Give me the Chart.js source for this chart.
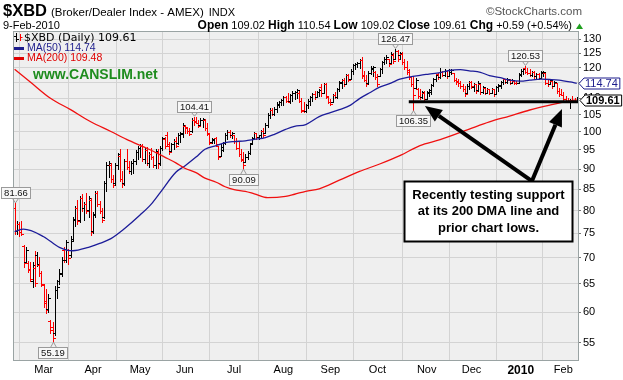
<!DOCTYPE html>
<html>
<head>
<meta charset="utf-8">
<script src="https://cdn.jsdelivr.net/npm/chart.js@4.4.1/dist/chart.umd.min.js"></script>
<style>
  html, body { margin: 0; padding: 0; background: #fff; }
  #wrap { width: 623px; height: 380px; }
</style>
</head>
<body>
<div id="wrap"><canvas id="xbd" width="623" height="380"></canvas></div>
<script>
// daily bars, 10-Feb-2009 .. 9-Feb-2010
const opens = [80.5,75.5,77.0,75.3,72.3,69.2,69.0,67.8,65.5,68.0,
  70.5,68.5,67.0,64.8,62.0,60.5,58.5,57.5,56.5,63.8,
  65.5,67.0,71.5,69.5,71.5,70.5,73.5,78.0,80.5,77.8,
  83.0,80.5,81.5,80.2,82.5,75.5,79.0,84.0,81.5,80.0,
  78.5,86.5,91.0,91.0,87.5,86.5,91.0,93.5,87.5,86.5,
  92.0,90.5,89.5,91.5,92.0,94.5,95.5,96.0,92.5,95.0,
  91.5,94.0,93.0,91.0,94.5,91.5,95.5,98.0,99.0,96.5,
  94.8,96.5,97.5,96.8,99.0,99.5,101.8,101.0,100.2,100.2,
  103.5,103.0,102.5,102.0,103.5,103.5,101.0,99.5,97.2,97.8,
  98.2,96.0,93.5,95.0,97.0,99.0,100.0,99.0,99.0,97.5,
  95.5,93.8,92.5,91.8,93.0,94.2,96.8,98.3,99.6,98.5,
  99.0,100.3,99.8,102.0,105.0,106.5,105.2,106.8,108.0,108.8,
  109.5,110.3,109.0,109.0,111.0,111.5,112.0,111.5,109.0,106.5,
  106.0,107.8,109.3,110.3,111.3,110.5,112.0,113.5,111.8,114.4,
  110.5,108.8,108.8,111.0,110.5,112.8,115.0,115.8,114.6,117.4,
  116.2,119.0,120.8,121.2,121.6,122.6,117.5,116.0,114.8,118.3,
  119.5,118.5,116.8,117.2,119.5,122.0,123.0,123.0,121.5,124.5,
  123.0,125.8,124.5,124.8,121.8,120.2,119.3,116.8,114.5,113.2,
  113.0,110.8,110.3,111.8,109.8,111.5,112.0,114.2,116.3,117.8,
  116.8,118.5,117.5,118.8,117.2,118.5,118.0,116.0,115.5,114.8,
  114.0,112.8,111.5,114.0,115.2,113.5,114.5,112.5,114.6,112.0,
  113.3,111.8,113.0,111.8,112.8,111.4,113.5,114.0,115.2,116.2,
  115.2,116.0,115.0,115.5,115.0,114.9,117.5,119.0,119.8,118.6,
  118.3,117.6,118.5,117.0,117.9,116.6,118.0,118.2,115.0,114.6,
  115.6,114.0,114.9,112.2,111.2,111.0,109.7,109.0,108.9,109.5,
  109.2,109.02];
const highs = [81.66,77.6,77.4,77.6,72.5,72.1,69.3,69.1,69.1,71.3,
  71.1,70.1,67.4,65.0,64.1,63.2,58.7,58.4,64.6,65.8,
  67.8,70.1,72.1,73.7,71.7,74.4,78.5,81.0,82.5,83.5,
  83.8,82.0,84.0,83.5,82.8,79.8,84.6,84.5,82.3,80.5,
  87.0,91.8,92.0,91.5,88.5,91.5,94.3,95.2,89.5,92.5,
  95.2,92.0,92.0,92.5,95.0,96.0,96.5,96.5,95.5,95.8,
  94.5,95.5,93.5,95.2,95.2,96.0,98.7,98.5,100.1,97.3,
  97.0,97.9,98.7,99.8,100.1,102.5,102.0,101.4,101.1,104.0,
  104.41,104.2,103.4,104.0,104.0,103.7,102.5,99.8,98.4,98.4,
  98.7,96.0,96.5,97.3,99.8,100.6,100.6,100.1,99.2,98.4,
  97.3,95.2,94.4,93.9,94.6,97.0,98.7,100.1,99.8,99.2,
  100.6,101.0,102.5,105.4,106.9,106.9,107.2,108.7,109.3,109.9,
  110.8,110.8,111.7,111.4,112.4,112.4,113.0,112.2,110.2,108.7,
  108.2,109.9,110.8,111.7,112.4,112.4,113.0,114.6,114.9,114.9,
  110.8,109.9,111.4,112.0,113.3,115.6,116.2,116.6,117.9,117.9,
  119.6,121.3,121.7,122.0,123.1,123.5,119.0,117.5,119.0,120.6,
  120.5,118.9,117.9,119.9,122.4,123.5,124.2,123.1,125.3,124.9,
  126.47,126.0,125.3,125.3,123.1,122.4,119.6,117.2,117.2,116.6,
  113.3,113.0,112.4,112.4,112.4,113.0,114.6,116.6,117.9,118.2,
  119.8,118.9,119.6,118.9,119.6,119.6,118.2,116.6,116.2,115.6,
  114.6,114.0,114.6,115.6,115.6,114.9,114.6,115.6,114.6,114.0,
  113.3,113.3,113.0,113.3,113.0,114.0,114.6,115.6,116.6,116.2,
  116.6,116.2,116.2,115.6,115.6,118.2,119.6,119.9,120.53,119.9,
  119.6,118.9,118.9,118.2,118.2,118.9,118.9,118.2,116.2,116.2,
  115.6,115.6,114.9,113.3,113.0,112.0,110.8,110.2,109.9,110.8,
  110.2,110.54];
const lows = [74.8,74.8,74.4,74.6,68.1,69.1,67.2,65.5,64.4,64.6,
  68.3,66.4,64.6,60.9,59.9,60.1,56.6,55.19,56.3,62.5,
  65.0,66.4,69.1,69.1,68.7,70.1,73.3,76.5,77.0,77.5,
  80.0,78.0,79.5,78.5,74.6,75.0,78.5,81.0,79.5,77.5,
  78.3,84.5,88.0,86.8,85.5,86.0,90.0,86.9,85.5,86.0,
  90.0,89.0,88.8,89.0,91.2,92.5,93.0,92.0,91.5,91.0,
  90.5,92.5,90.5,90.4,90.4,91.0,95.0,95.5,96.0,93.9,
  94.6,95.2,95.7,96.5,97.3,98.7,99.8,99.8,99.2,100.1,
  102.0,102.5,101.4,102.0,101.4,100.6,99.2,96.5,97.0,97.0,
  96.0,92.5,93.3,94.6,96.5,97.9,98.7,98.4,97.0,95.2,
  93.3,92.0,90.09,91.7,92.5,93.9,96.5,97.9,97.9,97.9,
  98.7,98.7,99.8,101.4,104.0,104.8,104.8,105.7,107.2,107.8,
  107.8,108.7,108.7,108.4,109.3,109.9,110.2,108.7,105.7,105.7,
  105.8,107.0,107.8,109.3,109.9,110.5,110.8,110.8,111.7,110.2,
  108.4,107.8,108.7,110.0,110.2,112.4,113.3,114.0,114.6,115.6,
  116.2,117.9,119.6,120.3,119.9,116.6,115.5,114.0,114.5,117.9,
  117.2,116.2,114.0,117.0,118.2,121.3,121.7,120.6,121.5,121.7,
  123.0,122.4,123.1,121.3,119.6,117.9,116.2,114.0,106.35,113.0,
  110.2,109.9,110.2,109.3,109.8,110.8,111.4,114.0,115.6,116.2,
  116.6,117.2,117.2,116.6,117.2,117.9,115.6,114.6,114.0,113.3,
  112.4,110.8,111.5,113.0,113.3,112.4,111.7,112.4,111.4,111.7,
  111.4,111.7,111.4,111.7,110.8,111.4,112.4,113.3,114.6,114.9,
  114.9,114.6,114.9,114.6,114.6,114.9,117.2,117.9,118.2,117.9,
  117.2,117.2,116.6,116.6,116.2,116.6,117.2,114.6,114.0,114.6,
  113.3,114.0,111.7,110.8,111.0,109.3,108.7,108.7,106.9,108.7,
  108.7,109.02];
const closes = [75.6,77.1,75.2,74.9,69.0,71.5,67.6,66.0,68.5,65.2,
  68.7,67.0,65.0,61.5,60.4,62.5,57.0,55.8,63.8,64.5,
  66.8,69.6,69.5,73.2,70.0,73.8,78.2,80.6,77.6,83.0,
  80.5,81.6,80.0,83.0,75.2,79.2,84.0,81.5,80.0,78.0,
  86.5,91.0,91.5,87.5,86.0,91.0,93.8,87.5,86.2,92.0,
  90.5,89.5,91.5,92.2,94.5,95.5,96.0,92.5,95.0,91.5,
  94.0,93.0,91.0,94.8,91.2,95.5,98.2,96.2,96.1,94.5,
  96.5,97.5,96.0,99.2,99.8,102.0,101.5,100.2,99.5,103.5,
  102.8,102.6,101.8,103.5,103.7,101.0,99.8,97.0,98.0,98.2,
  96.5,93.0,95.8,96.8,99.2,100.0,99.0,99.6,97.5,95.6,
  93.8,92.4,91.0,93.2,94.2,96.6,98.3,99.6,98.5,99.0,
  100.3,99.2,102.0,105.0,106.5,105.2,106.8,108.2,108.8,109.5,
  110.3,109.0,108.9,111.0,111.8,112.0,112.6,109.2,106.2,106.0,
  107.8,109.3,110.3,111.3,110.4,112.0,112.6,111.5,114.4,110.8,
  108.8,108.2,111.0,110.5,112.8,115.2,115.8,114.5,117.4,116.0,
  119.0,120.8,121.2,121.6,122.6,117.2,116.0,114.5,118.3,120.0,
  120.2,116.8,114.5,119.5,122.0,123.0,123.8,121.2,124.8,122.3,
  125.8,123.0,124.9,121.8,120.2,118.5,116.8,114.5,111.0,116.0,
  110.8,110.3,111.9,109.7,112.0,112.6,114.2,116.3,117.5,116.8,
  118.5,117.5,119.0,117.2,119.2,119.3,116.0,115.2,114.8,114.0,
  112.8,111.2,114.0,115.2,113.8,114.5,112.2,115.0,111.9,113.5,
  111.8,113.0,111.7,113.0,111.2,113.6,114.2,115.3,116.3,115.2,
  116.2,115.0,115.8,115.0,114.8,117.8,119.0,119.6,118.6,118.3,
  117.6,118.5,117.0,117.9,116.5,118.4,118.6,115.0,114.4,115.8,
  113.8,115.2,112.2,111.2,111.0,109.7,109.0,108.9,109.5,109.2,
  109.02,109.61];

// moving averages (bar index, value)
const ma50Idx = [0,4,13,20,26,33,38,43,49,56,61,65,72,76,81,85,90,94,98,103,107,112,116,121,125,130,136,141,145,150,154,159,163,168,172,176,181,185,190,194,199,203,208,212,217,221,226,230,235,239,243,248,251];
const ma50Val = [75.4,75.9,74.3,72.1,71.4,72.1,72.9,73.9,76.0,79.0,81.5,84.2,89.2,90.8,93.1,95.2,96.2,97.0,97.3,97.5,97.9,98.4,99.3,100.7,101.6,102.1,104.4,105.6,106.5,107.9,109.9,111.9,113.5,114.8,116.1,116.8,117.4,117.8,118.3,119.0,119.3,118.9,118.4,117.3,116.6,115.8,115.5,115.8,116.1,116.0,115.8,115.2,114.74];
const ma200Idx = [0,7,16,25,34,43,50,60,67,72,76,81,85,90,94,98,103,107,113,121,125,130,136,145,154,163,172,181,190,203,212,221,230,239,248,251];
const ma200Val = [119.4,115.2,110.0,106.5,102.9,100.1,97.9,95.2,93.1,91.6,90.2,89.1,87.7,86.7,85.6,84.9,84.5,83.9,83.0,83.3,83.8,84.5,85.1,87.2,89.4,91.3,93.5,96.2,97.8,100.8,102.9,104.6,106.4,107.9,109.2,109.48];

const monthIdx = [13,35,56,76,98,120,141,162,184,204,226,245];
const monthLabels = ['Mar','Apr','May','Jun','Jul','Aug','Sep','Oct','Nov','Dec','2010','Feb'];
const yTicks = [55,60,65,70,75,80,85,90,95,100,105,110,115,120,125,130];

const highMarks = [0, 80, 170, 228];
const lowMarks = [17, 102, 178];
const supportLevel = 108.9;
const supportSpan = [176, 252];
const arrowTips = [[183.2, 107.6], [244.4, 106.7]];
const arrowTail = [231.0, 87.0];
const noteTop = [211.5, 87.0];
const noteLines = ['Recently testing support', 'at its 200 DMA line and', 'prior chart lows.'];

const FONT = "'Liberation Sans', Arial, sans-serif";
const WIDE = "'DejaVu Sans', Verdana, sans-serif";

function isUp(i) {
  return i === 0 ? closes[0] >= opens[0] : closes[i] >= closes[i - 1];
}

function text(ctx, s, x, y, font, color, align) {
  ctx.font = font;
  ctx.fillStyle = color;
  ctx.textAlign = align || 'left';
  ctx.textBaseline = 'middle';
  ctx.fillText(s, x, y);
  return ctx.measureText(s).width;
}

const plotBackground = {
  id: 'plotBackground',
  beforeDraw(chart) {
    const { ctx, chartArea: a } = chart;
    ctx.save();
    ctx.fillStyle = '#fff';
    ctx.fillRect(0, 0, chart.width, chart.height);
    ctx.fillStyle = '#efefef';
    ctx.fillRect(a.left, a.top, a.right - a.left, a.bottom - a.top);
    ctx.restore();
  }
};

const ohlcBars = {
  id: 'ohlcBars',
  afterDatasetDraw(chart, args) {
    if (args.index !== 0) return;
    const { ctx, chartArea: a } = chart;
    const y = chart.scales.y;
    ctx.save();
    ctx.beginPath();
    ctx.rect(a.left, a.top, a.right - a.left, a.bottom - a.top);
    ctx.clip();
    ctx.lineWidth = 1;
    args.meta.data.forEach((el, i) => {
      const x = Math.round(el.x) + 0.5;
      const top = Math.round(Math.min(el.y, el.base));
      const bot = Math.round(Math.max(el.y, el.base));
      const yo = Math.round(y.getPixelForValue(opens[i])) + 0.5;
      const yc = Math.round(y.getPixelForValue(closes[i])) + 0.5;
      ctx.strokeStyle = isUp(i) ? '#000' : '#f00';
      ctx.beginPath();
      ctx.moveTo(x, top);
      ctx.lineTo(x, bot + 1);
      ctx.moveTo(x - 2.5, yo);
      ctx.lineTo(x, yo);
      ctx.moveTo(x, yc);
      ctx.lineTo(x + 2.5, yc);
      ctx.stroke();
    });
    ctx.restore();
  }
};

function markLabel(ctx, x, yv, s, above) {
  ctx.font = `9.5px ${FONT}`;
  const w = Math.round(ctx.measureText(s).width) + 5;
  const h = 11;
  const bx = Math.round(Math.max(1, x - w / 2)) + 0.5;
  const by = Math.round(above ? yv - 5 - h : yv + 5) + 0.5;
  const px = Math.round(x) + 0.5;
  ctx.fillStyle = '#f7f7f7';
  ctx.strokeStyle = '#9a9a9a';
  ctx.lineWidth = 1;
  ctx.fillRect(bx, by, w, h);
  ctx.strokeRect(bx, by, w, h);
  ctx.beginPath();
  if (above) {
    ctx.moveTo(px - 3, by + h);
    ctx.lineTo(px, yv - 0.5);
    ctx.lineTo(px + 3, by + h);
  } else {
    ctx.moveTo(px - 3, by);
    ctx.lineTo(px, yv + 0.5);
    ctx.lineTo(px + 3, by);
  }
  ctx.stroke();
  text(ctx, s, bx + w / 2, by + h / 2 + 0.5, `9.5px ${FONT}`, '#111', 'center');
}

function sideTag(ctx, xTip, yv, s, color, bold) {
  const font = `${bold ? 'bold ' : ''}11px ${FONT}`;
  ctx.font = font;
  const w = ctx.measureText(s).width;
  const h = 11;
  const yy = Math.round(yv) + 0.5;
  ctx.beginPath();
  ctx.moveTo(xTip, yy);
  ctx.lineTo(xTip + 5, yy - h / 2);
  ctx.lineTo(Math.min(622.5, xTip + 8 + w), yy - h / 2);
  ctx.lineTo(Math.min(622.5, xTip + 8 + w), yy + h / 2);
  ctx.lineTo(xTip + 5, yy + h / 2);
  ctx.closePath();
  ctx.fillStyle = '#fff';
  ctx.fill();
  ctx.strokeStyle = color;
  ctx.lineWidth = 1;
  ctx.stroke();
  text(ctx, s, xTip + 6, yy + 0.5, font, color);
}

function arrow(ctx, x1, y1, x2, y2) {
  const a = Math.atan2(y2 - y1, x2 - x1);
  const L = 17, W = 7;
  const bx = x2 - L * Math.cos(a), by = y2 - L * Math.sin(a);
  ctx.strokeStyle = '#000';
  ctx.fillStyle = '#000';
  ctx.lineWidth = 4;
  ctx.beginPath();
  ctx.moveTo(x1, y1);
  ctx.lineTo(bx, by);
  ctx.stroke();
  ctx.beginPath();
  ctx.moveTo(x2, y2);
  ctx.lineTo(bx + W * Math.sin(a), by - W * Math.cos(a));
  ctx.lineTo(bx - W * Math.sin(a), by + W * Math.cos(a));
  ctx.closePath();
  ctx.fill();
}

const overlay = {
  id: 'overlay',
  afterDraw(chart) {
    const { ctx, chartArea: a } = chart;
    const x = chart.scales.x, y = chart.scales.y;
    ctx.save();

    // plot frame
    ctx.strokeStyle = '#9aa3a3';
    ctx.lineWidth = 1;
    ctx.strokeRect(a.left + 0.5, a.top + 0.5, a.right - a.left - 1, a.bottom - a.top - 1);

    // header
    let cx = 3;
    cx += text(ctx, '$XBD', cx, 11.5, `bold 16.5px ${FONT}`, '#000') + 4;
    cx += text(ctx, '(Broker/Dealer Index - AMEX)', cx, 12.5, `11.5px ${FONT}`, '#000') + 5;
    text(ctx, 'INDX', cx, 12.5, `11px ${FONT}`, '#000');
    text(ctx, '\u00a9StockCharts.com', 582, 12, `11.5px ${FONT}`, '#555', 'right');
    text(ctx, '9-Feb-2010', 3, 25.5, `11px ${FONT}`, '#000');
    const last = closes.length - 1;
    const chg = closes[last] - closes[last - 1];
    const parts = [
      ['Open', true], [' ' + opens[last].toFixed(2) + ' ', false],
      ['High', true], [' ' + highs[last].toFixed(2) + ' ', false],
      ['Low', true], [' ' + lows[last].toFixed(2) + ' ', false],
      ['Close', true], [' ' + closes[last].toFixed(2) + ' ', false],
      ['Chg', true], [' +' + chg.toFixed(2) + ' (+' + (chg / closes[last - 1] * 100).toFixed(2) + '%)', false]
    ];
    const fontOf = b => b ? `bold 12px ${FONT}` : `11px ${FONT}`;
    let total = 0;
    parts.forEach(p => { ctx.font = fontOf(p[1]); total += ctx.measureText(p[0]).width; });
    cx = 572 - total;
    parts.forEach(p => { cx += text(ctx, p[0], cx, 25.5, fontOf(p[1]), '#000'); });
    ctx.fillStyle = '#1fa01f';
    ctx.beginPath();
    ctx.moveTo(576, 29); ctx.lineTo(583, 29); ctx.lineTo(579.5, 23.5); ctx.closePath();
    ctx.fill();

    // legend
    ctx.lineWidth = 1;
    ctx.strokeStyle = '#000';
    ctx.beginPath();
    ctx.moveTo(16.5, 33); ctx.lineTo(16.5, 42); ctx.moveTo(14, 36.5); ctx.lineTo(16.5, 36.5); ctx.moveTo(16.5, 39.5); ctx.lineTo(19, 39.5);
    ctx.stroke();
    ctx.strokeStyle = '#f00';
    ctx.beginPath();
    ctx.moveTo(20.5, 34); ctx.lineTo(20.5, 41); ctx.moveTo(20.5, 37.5); ctx.lineTo(22.5, 37.5);
    ctx.stroke();
    text(ctx, '$XBD (Daily) ' + closes[last].toFixed(2), 24, 38, `11px ${WIDE}`, '#000');
    ctx.fillStyle = '#1c1c8c';
    ctx.fillRect(14, 47, 10, 3);
    text(ctx, 'MA(50) ' + ma50Val[ma50Val.length - 1].toFixed(2), 27, 48.5, `10.5px ${FONT}`, '#1c1c8c');
    ctx.fillStyle = '#e00000';
    ctx.fillRect(14, 57, 10, 3);
    text(ctx, 'MA(200) ' + ma200Val[ma200Val.length - 1].toFixed(2), 27, 58.5, `10.5px ${FONT}`, '#e00000');
    text(ctx, 'www.CANSLIM.net', 33, 75.5, `bold 14px ${FONT}`, '#1e8c1e');

    // high / low marks
    highMarks.forEach(i => markLabel(ctx, x.getPixelForValue(i), y.getPixelForValue(highs[i]), highs[i].toFixed(2), true));
    lowMarks.forEach(i => markLabel(ctx, x.getPixelForValue(i), y.getPixelForValue(lows[i]), lows[i].toFixed(2), false));

    // last values on the axis
    sideTag(ctx, a.right, y.getPixelForValue(ma50Val[ma50Val.length - 1]), ma50Val[ma50Val.length - 1].toFixed(2), '#1c1c8c', false);
    sideTag(ctx, a.right + 1, y.getPixelForValue(closes[last]), closes[last].toFixed(2), '#000', true);

    // callout
    const tx = x.getPixelForValue(arrowTail[0]), ty = y.getPixelForValue(arrowTail[1]);
    arrowTips.forEach(t => arrow(ctx, tx, ty, x.getPixelForValue(t[0]), y.getPixelForValue(t[1])));
    const bw = 168, bh = 60;
    const bx = Math.round(x.getPixelForValue(noteTop[0]) - bw / 2) + 0.5;
    const by = Math.round(y.getPixelForValue(noteTop[1])) + 0.5;
    ctx.fillStyle = '#fff';
    ctx.fillRect(bx, by, bw, bh);
    ctx.strokeStyle = '#000';
    ctx.lineWidth = 2;
    ctx.strokeRect(bx, by, bw, bh);
    noteLines.forEach((s, k) => text(ctx, s, bx + bw / 2, by + 13.5 + k * 16.5, `bold 13px ${FONT}`, '#000', 'center'));

    ctx.restore();
  }
};

Chart.defaults.font.family = FONT;
Chart.defaults.color = '#000';

const ctx = document.getElementById('xbd').getContext('2d');
new Chart(ctx, {
  data: {
    datasets: [
      {
        type: 'bar',
        label: '$XBD',
        data: highs.map((h, i) => ({ x: i, y: [lows[i], h] })),
        backgroundColor: 'rgba(0,0,0,0)',
        borderWidth: 0,
        barThickness: 1,
        grouped: false,
        order: 3
      },
      {
        type: 'line',
        label: 'MA(50)',
        data: ma50Idx.map((v, k) => ({ x: v, y: ma50Val[k] })),
        borderColor: '#1c1c99',
        borderWidth: 1.3,
        pointRadius: 0,
        tension: 0.3,
        cubicInterpolationMode: 'monotone',
        order: 2
      },
      {
        type: 'line',
        label: 'MA(200)',
        data: ma200Idx.map((v, k) => ({ x: v, y: ma200Val[k] })),
        borderColor: '#f01010',
        borderWidth: 1.3,
        pointRadius: 0,
        tension: 0.3,
        cubicInterpolationMode: 'monotone',
        order: 1
      },
      {
        type: 'line',
        label: 'support',
        data: supportSpan.map(v => ({ x: v, y: supportLevel })),
        borderColor: '#000',
        borderWidth: 3,
        pointRadius: 0,
        order: 0
      }
    ]
  },
  options: {
    responsive: false,
    animation: false,
    devicePixelRatio: 1,
    layout: { padding: { left: 13, top: 31, right: 0, bottom: 0 } },
    plugins: {
      legend: { display: false },
      tooltip: { enabled: false }
    },
    scales: {
      x: {
        type: 'linear',
        min: -0.714,
        max: 252.0,
        offset: false,
        afterBuildTicks: s => { s.ticks = monthIdx.map(v => ({ value: v })); },
        afterFit: s => { s.height = 19; },
        ticks: {
          autoSkip: false,
          maxRotation: 0,
          padding: 2,
          color: '#000',
          callback: (v, i) => monthLabels[i],
          font: c => ({ family: FONT, size: c.tick && c.tick.value === 226 ? 12 : 11, weight: c.tick && c.tick.value === 226 ? 'bold' : 'normal' })
        },
        grid: { color: '#d3d3d3', drawTicks: false },
        border: { display: false }
      },
      y: {
        type: 'logarithmic',
        position: 'right',
        min: 52.24,
        max: 133.1,
        afterBuildTicks: s => { s.ticks = yTicks.map(v => ({ value: v })); },
        afterFit: s => { s.width = 44; },
        ticks: {
          padding: 2,
          color: '#000',
          font: { family: FONT, size: 11 },
          callback: v => String(v)
        },
        grid: { color: '#d3d3d3', tickLength: 2, tickColor: '#777' },
        border: { display: false }
      }
    }
  },
  plugins: [plotBackground, ohlcBars, overlay]
});
</script>
</body>
</html>
